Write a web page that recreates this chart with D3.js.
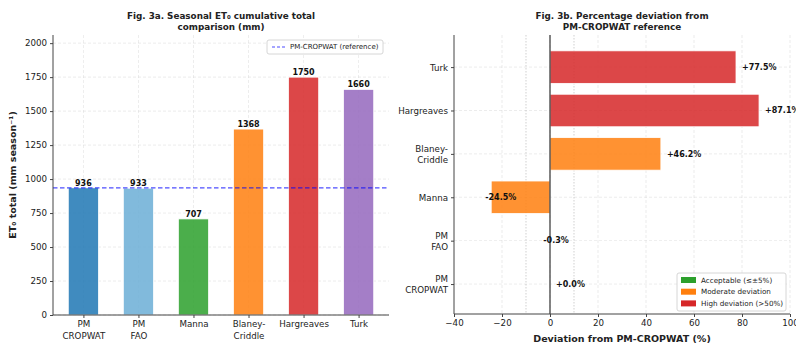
<!DOCTYPE html>
<html>
<head>
<meta charset="utf-8">
<script src="https://cdn.jsdelivr.net/npm/d3@7"></script>
<style>
  html, body { margin: 0; padding: 0; background: #fff; }
  svg { display: block; font-family: "DejaVu Sans", sans-serif; }
</style>
</head>
<body>
<svg id="chart" width="796" height="344"></svg>
<script>
// ---- data ----
const methods = ["PM\nCROPWAT", "PM\nFAO", "Manna", "Blaney-\nCriddle", "Hargreaves", "Turk"];
const seasonalTotals = [936, 933, 707, 1368, 1750, 1660];          // mm season^-1
const deviationPct = [0.0, -0.3, -24.5, 46.2, 87.1, 77.5];          // % vs PM-CROPWAT
const referenceTotal = 936;
const totalTicks = [0, 250, 500, 750, 1000, 1250, 1500, 1750, 2000];
const deviationTicks = [-40, -20, 0, 20, 40, 60, 80, 100];
const thresholdLines = [-10, 10];
const deviationClasses = ["Acceptable (≤±5%)", "Moderate deviation", "High deviation (>50%)"];

// ---- palette ----
const methodColors = ["#1f77b4", "#6baed6", "#2ca02c", "#ff7f0e", "#d62728", "#9467bd"];
const classColors = ["#2ca02c", "#ff7f0e", "#d62728"];
const classOf = v => Math.abs(v) <= 5 ? 0 : (Math.abs(v) <= 50 ? 1 : 2);

const svg = d3.select("#chart");
const ink = "#222";
const spine = "#444";
const gridStyle = sel => sel.attr("stroke", "#ccc").attr("stroke-width", 0.6)
  .attr("stroke-dasharray", "3,2").attr("opacity", 0.6);

function multiline(textSel, lineHeightEm) {
  textSel.each(function() {
    const t = d3.select(this);
    const lines = String(t.text()).split("\n");
    const x = t.attr("x") || 0;
    t.text(null);
    lines.forEach((ln, k) => {
      t.append("tspan").attr("x", x).attr("dy", k === 0 ? null : lineHeightEm + "em").text(ln);
    });
  });
}

// ================= Panel a: seasonal totals =================
const a = { left: 53, right: 389, top: 35, bottom: 315 };
const xa = d3.scaleLinear().domain([-0.5525, 5.5525]).range([a.left, a.right]);
const ya = d3.scaleLinear().domain([0, 2060]).range([a.bottom, a.top]);
const barW = 0.55;

const ga = svg.append("g");
// grid
ga.append("g").selectAll("line").data(totalTicks).join("line")
  .attr("x1", a.left).attr("x2", a.right).attr("y1", d => ya(d)).attr("y2", d => ya(d)).call(gridStyle);
ga.append("g").selectAll("line").data(d3.range(methods.length)).join("line")
  .attr("x1", d => xa(d)).attr("x2", d => xa(d)).attr("y1", a.top).attr("y2", a.bottom).call(gridStyle);

// bars
ga.append("g").selectAll("rect").data(seasonalTotals).join("rect")
  .attr("x", (d, i) => xa(i - barW / 2))
  .attr("width", (d, i) => xa(i + barW / 2) - xa(i - barW / 2))
  .attr("y", d => ya(d))
  .attr("height", d => ya(0) - ya(d))
  .attr("fill", (d, i) => methodColors[i])
  .attr("fill-opacity", 0.85)
  .attr("stroke", "#fff").attr("stroke-width", 0.8);

// value labels
ga.append("g").selectAll("text").data(seasonalTotals).join("text")
  .attr("x", (d, i) => xa(i))
  .attr("y", d => ya(d) - 2)
  .attr("text-anchor", "middle")
  .attr("font-size", 8).attr("font-weight", "bold").attr("fill", "#111")
  .text(d => d3.format("d")(d));

// reference line
ga.append("line")
  .attr("x1", a.left).attr("x2", a.right)
  .attr("y1", ya(referenceTotal)).attr("y2", ya(referenceTotal))
  .attr("stroke", "blue").attr("stroke-opacity", 0.7)
  .attr("stroke-width", 1.2).attr("stroke-dasharray", "4.5,2.5");

// axes
const axA_y = ga.append("g").attr("transform", `translate(${a.left},0)`)
  .call(d3.axisLeft(ya).tickValues(totalTicks).tickFormat(d3.format("d"))
    .tickSize(3).tickPadding(3).tickSizeOuter(0));
const axA_x = ga.append("g").attr("transform", `translate(0,${a.bottom})`)
  .call(d3.axisBottom(xa).tickValues(d3.range(methods.length)).tickFormat(i => methods[i])
    .tickSize(3).tickPadding(3).tickSizeOuter(0));
[axA_y, axA_x].forEach(ax => {
  ax.selectAll("text").attr("font-size", 8.7).attr("fill", ink).attr("font-family", "DejaVu Sans");
  ax.selectAll("line").attr("stroke", spine);
  ax.select(".domain").attr("stroke", spine).attr("stroke-width", 1);
});
axA_x.selectAll("text").call(multiline, 1.35);
// domain lines span the full axes
axA_y.select(".domain").attr("d", `M0,${a.top}V${a.bottom}`);
axA_x.select(".domain").attr("d", `M${a.left},0H${a.right}`);

// title & y label
const titleA = ga.append("text").attr("x", (a.left + a.right) / 2).attr("y", 19)
  .attr("text-anchor", "middle").attr("font-size", 8.8).attr("font-weight", "bold").attr("fill", ink);
titleA.append("tspan").attr("x", (a.left + a.right) / 2).text("Fig. 3a. Seasonal ET₀ cumulative total");
titleA.append("tspan").attr("x", (a.left + a.right) / 2).attr("dy", 11).text("comparison (mm)");

ga.append("text")
  .attr("transform", `translate(16,${(a.top + a.bottom) / 2}) rotate(-90)`)
  .attr("text-anchor", "middle").attr("font-size", 9.5).attr("font-weight", "bold").attr("fill", ink)
  .text("ET₀ total (mm season⁻¹)");

// legend
const lgA = ga.append("g");
lgA.append("rect").attr("x", 267).attr("y", 40).attr("width", 116).attr("height", 14).attr("rx", 2)
  .attr("fill", "#fff").attr("fill-opacity", 0.85).attr("stroke", "#ccc").attr("stroke-width", 0.8);
lgA.append("line").attr("x1", 272).attr("x2", 285).attr("y1", 47).attr("y2", 47)
  .attr("stroke", "blue").attr("stroke-opacity", 0.7).attr("stroke-width", 1.2).attr("stroke-dasharray", "3,2");
lgA.append("text").attr("x", 290).attr("y", 47).attr("dy", "0.35em")
  .attr("font-size", 7).attr("fill", ink).text("PM-CROPWAT (reference)");

// ================= Panel b: percentage deviation =================
const b = { left: 454, right: 790, top: 35, bottom: 314 };
const xb = d3.scaleLinear().domain([-40, 100]).range([b.left, b.right]);
const yb = d3.scaleLinear().domain([-0.69, 5.74]).range([b.bottom, b.top]);
const barH = 0.75;

const gb = svg.append("g");
// grid
gb.append("g").selectAll("line").data(deviationTicks.slice(1)).join("line")
  .attr("x1", d => xb(d)).attr("x2", d => xb(d)).attr("y1", b.top).attr("y2", b.bottom).call(gridStyle);
gb.append("g").selectAll("line").data(d3.range(methods.length)).join("line")
  .attr("x1", b.left).attr("x2", b.right).attr("y1", d => yb(d)).attr("y2", d => yb(d)).call(gridStyle);
gb.append("g").selectAll("line").data(thresholdLines).join("line")
  .attr("x1", d => xb(d)).attr("x2", d => xb(d)).attr("y1", b.top).attr("y2", b.bottom)
  .attr("stroke", "#bbb").attr("stroke-width", 0.7).attr("stroke-dasharray", "1.5,1.5");

// bars
gb.append("g").selectAll("rect").data(deviationPct).join("rect")
  .attr("x", d => xb(Math.min(0, d)))
  .attr("width", d => Math.abs(xb(d) - xb(0)))
  .attr("y", (d, i) => yb(i + barH / 2))
  .attr("height", (d, i) => yb(i - barH / 2) - yb(i + barH / 2))
  .attr("fill", d => classColors[classOf(d)])
  .attr("fill-opacity", 0.85)
  .attr("stroke", "#fff").attr("stroke-width", 0.8);

// zero line
gb.append("line").attr("x1", xb(0)).attr("x2", xb(0)).attr("y1", b.top).attr("y2", b.bottom)
  .attr("stroke", "#333").attr("stroke-width", 1.2);

// value labels
gb.append("g").selectAll("text").data(deviationPct).join("text")
  .attr("x", d => xb(d >= 0 ? d + 2.5 : d - 2.5))
  .attr("y", (d, i) => yb(i))
  .attr("dy", "0.35em")
  .attr("font-size", 8).attr("font-weight", "bold").attr("fill", "#111")
  .text(d => (d >= 0 ? "+" : "-") + Math.abs(d).toFixed(1) + "%");

// axes
const axB_y = gb.append("g").attr("transform", `translate(${b.left},0)`)
  .call(d3.axisLeft(yb).tickValues(d3.range(methods.length)).tickFormat(i => methods[i])
    .tickSize(3).tickPadding(3).tickSizeOuter(0));
const axB_x = gb.append("g").attr("transform", `translate(0,${b.bottom})`)
  .call(d3.axisBottom(xb).tickValues(deviationTicks).tickFormat(d3.format("d"))
    .tickSize(3).tickPadding(3).tickSizeOuter(0));
[axB_y, axB_x].forEach(ax => {
  ax.selectAll("text").attr("font-size", 8.7).attr("fill", ink).attr("font-family", "DejaVu Sans");
  ax.selectAll("line").attr("stroke", spine);
  ax.select(".domain").attr("stroke", spine).attr("stroke-width", 1);
});
axB_y.select(".domain").attr("d", `M0,${b.top}V${b.bottom}`);
axB_x.select(".domain").attr("d", `M${b.left},0H${b.right}`);
// two-line category labels, centred on their tick
axB_y.selectAll("text").each(function() {
  const t = d3.select(this);
  const lines = String(t.text()).split("\n");
  const x = t.attr("x");
  t.text(null).attr("dy", null);
  const lh = 11;
  lines.forEach((ln, k) => {
    t.append("tspan").attr("x", x)
      .attr("y", (k - (lines.length - 1) / 2) * lh)
      .attr("dy", "0.35em").text(ln);
  });
});

// title & x label
const titleB = gb.append("text").attr("x", (b.left + b.right) / 2).attr("y", 19)
  .attr("text-anchor", "middle").attr("font-size", 8.8).attr("font-weight", "bold").attr("fill", ink);
titleB.append("tspan").attr("x", (b.left + b.right) / 2).text("Fig. 3b. Percentage deviation from");
titleB.append("tspan").attr("x", (b.left + b.right) / 2).attr("dy", 11).text("PM-CROPWAT reference");

gb.append("text").attr("x", (b.left + b.right) / 2).attr("y", 342)
  .attr("text-anchor", "middle").attr("font-size", 9.5).attr("font-weight", "bold").attr("fill", ink)
  .text("Deviation from PM-CROPWAT (%)");

// legend
const lgB = gb.append("g");
lgB.append("rect").attr("x", 677).attr("y", 273).attr("width", 109).attr("height", 38).attr("rx", 2)
  .attr("fill", "#fff").attr("fill-opacity", 0.85).attr("stroke", "#ccc").attr("stroke-width", 0.8);
const rowsB = lgB.selectAll("g.row").data(deviationClasses).join("g")
  .attr("transform", (d, i) => `translate(681,${280 + i * 11.7})`);
rowsB.append("rect").attr("x", 0).attr("y", -3).attr("width", 15).attr("height", 6)
  .attr("fill", (d, i) => classColors[i]);
rowsB.append("text").attr("x", 20).attr("y", 0).attr("dy", "0.35em")
  .attr("font-size", 7.2).attr("fill", ink).text(d => d);
</script>
</body>
</html>
